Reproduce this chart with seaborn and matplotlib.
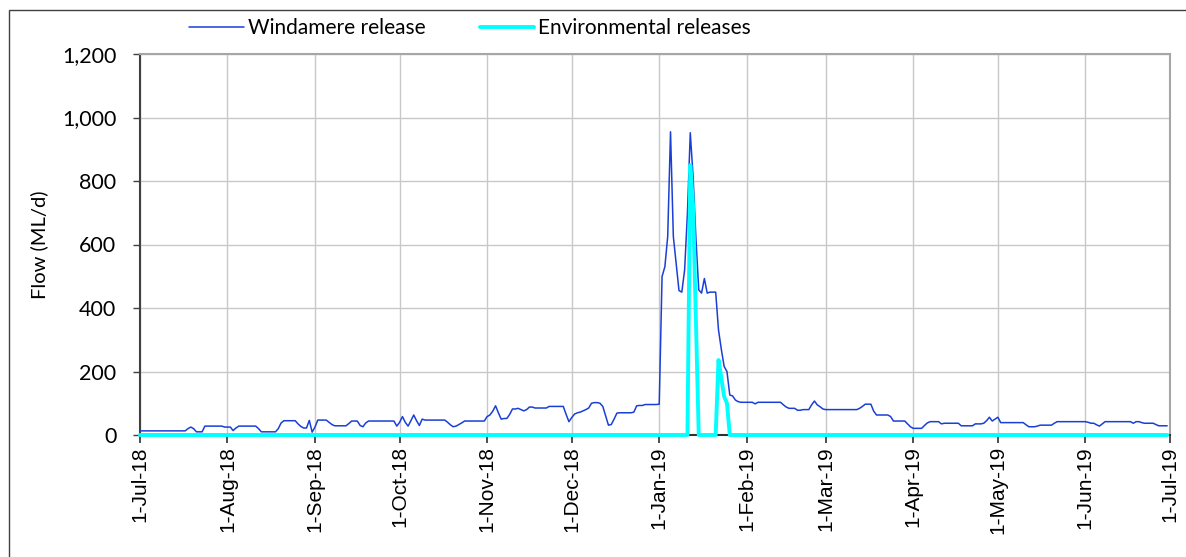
import numpy as np
import pandas as pd
import matplotlib
matplotlib.use("Agg")
import matplotlib.pyplot as plt
import matplotlib.dates as mdates
from matplotlib.ticker import FuncFormatter, FixedLocator
from matplotlib.patches import Rectangle
import seaborn as sns

# ---- Daily Windamere release (ML/d), 1-Jul-18 .. 30-Jun-19 ----
jul18 = [13]*17 + [20, 25, 20, 10, 10, 10] + [28]*7 + [25]
aug18 = [25, 25, 14, 22] + [28]*7 + [20] + [10]*6 + [20, 38] + [45]*5 + [35, 27, 22, 22, 46, 9]
sep18 = [25] + [47]*4 + [40, 33] + [29]*5 + [36] + [44]*3 + [30, 26, 38] + [44]*10 + [28]
oct18 = [40, 58, 40, 28, 45, 63, 45, 30, 50] + [47]*8 + [40, 32, 26, 28, 33, 38] + [44]*8
nov18 = [58, 63, 75, 92, 70, 50, 52, 52, 65, 82, 82, 84, 80, 76, 80, 88, 88] + [85]*5 + [90]*6 + [65, 42]
dec18 = [55, 66, 70, 72, 76, 80, 85, 100, 102, 102, 100, 90, 60, 31, 33, 50, 69] + [70]*5 + [72, 92, 93, 93] + [96]*5
jan19 = [97, 499, 530, 625, 955, 625, 540, 455, 450, 520, 700, 952, 814, 620, 457, 447,
         493, 447, 450, 450, 450, 331, 270, 216, 200, 126, 123, 110, 105, 103, 103]
feb19 = [103]*3 + [98] + [103]*9 + [95, 88] + [84]*3 + [78, 78] + [80]*3 + [95, 107, 95, 89, 82]
mar19 = [80]*12 + [84, 90, 97, 97, 97, 75] + [63]*5 + [58] + [44]*5 + [35, 26]
apr19 = [21]*4 + [30, 38] + [42]*4 + [35] + [37]*6 + [29]*5 + [35]*3 + [37, 45, 56, 44, 50]
may19 = [56] + [39]*9 + [32] + [26]*3 + [28] + [31]*5 + [37] + [42]*10
jun19 = [42, 40, 37, 37, 32, 28, 35] + [42]*10 + [37, 42, 42, 39] + [37]*4 + [33] + [29]*4

# ---- Environmental releases (ML/d): only in January 2019 ----
env_jan19 = [0]*11 + [850, 720, 360] + [0]*7 + [236, 180, 121, 100] + [0]*6

month_names = ["Jul-18", "Aug-18", "Sep-18", "Oct-18", "Nov-18", "Dec-18",
               "Jan-19", "Feb-19", "Mar-19", "Apr-19", "May-19", "Jun-19", "Jul-19"]
tick_labels = ["1-" + m for m in month_names]
y_ticks = [0, 200, 400, 600, 800, 1000, 1200]

windamere = (jul18 + aug18 + sep18 + oct18 + nov18 + dec18 + jan19 +
             feb19 + mar19 + apr19 + may19 + jun19)
env = ([0]*len(jul18 + aug18 + sep18 + oct18 + nov18 + dec18) + env_jan19 +
       [0]*len(feb19 + mar19 + apr19 + may19 + jun19))

dates = pd.date_range("2018-07-01", periods=len(windamere), freq="D")
df = pd.DataFrame({"date": dates, "Windamere release": windamere,
                   "Environmental releases": env})

sns.set_style("white")
plt.rcParams["font.family"] = ["Lato", "DejaVu Sans"]
plt.rcParams["text.color"] = "black"
plt.rcParams["axes.labelcolor"] = "black"
plt.rcParams["xtick.color"] = "black"
plt.rcParams["ytick.color"] = "black"

fig = plt.figure(figsize=(11.86, 5.57), dpi=100)
ax = fig.add_axes([140/1186, 1-435/557, (1170-140)/1186, (435-54)/557])

sns.lineplot(data=df, x="date", y="Windamere release", ax=ax, color="#1a3fd6",
             lw=1.1, label="Windamere release", zorder=3)
sns.lineplot(data=df, x="date", y="Environmental releases", ax=ax, color="#00ffff",
             lw=2.8, label="Environmental releases", zorder=4, clip_on=False)

tick_dates = pd.date_range("2018-07-01", periods=len(tick_labels), freq="MS")
ax.set_xlim(tick_dates[0], tick_dates[-1])
ax.xaxis.set_major_locator(FixedLocator(mdates.date2num(tick_dates)))
ax.set_xticklabels(tick_labels, rotation=90, fontsize=15, family="Liberation Sans")
ax.set_ylim(0, 1200)
ax.set_yticks(y_ticks)
ax.yaxis.set_major_formatter(FuncFormatter(lambda v, p: f"{int(v):,}"))
ax.tick_params(axis="y", labelsize=15.5, length=5, width=1, color="#404040",
               labelcolor="black", direction="out", left=True, pad=12)
ax.tick_params(axis="x", length=6, width=1.2, color="#303030",
               labelcolor="black", direction="out", bottom=True, pad=2)

ax.grid(True, color="#c8c8c8", lw=1)
ax.set_axisbelow(True)
for s in ["top", "right"]:
    ax.spines[s].set_color("#a6a6a6")
    ax.spines[s].set_linewidth(1.5)
ax.spines["left"].set_color("#404040")
ax.spines["left"].set_linewidth(1.5)
ax.spines["bottom"].set_color("#303030")
ax.spines["bottom"].set_linewidth(1.5)

ax.set_xlabel("")
ax.set_ylabel("Flow (ML/d)", fontsize=14.5, labelpad=10, color="black")

ax.get_legend().remove()
h, l = ax.get_legend_handles_labels()
fig.legend(h, l, loc="center", bbox_to_anchor=(470/1186, 1-28/557), ncol=2,
           frameon=False, fontsize=15, handlelength=2.6, columnspacing=2.6,
           handletextpad=0.2, labelcolor="black")

fig.patches.append(Rectangle((9/1186, -0.02), 1.1, 1-10/557+0.02, transform=fig.transFigure,
                             fill=False, edgecolor="#404040", lw=1.0))

fig.savefig("out.png", dpi=100)
